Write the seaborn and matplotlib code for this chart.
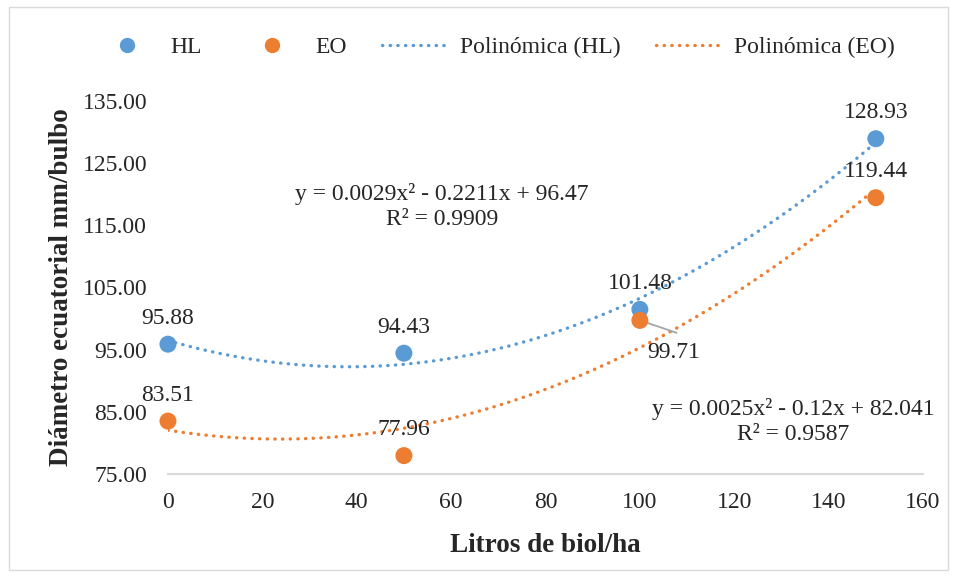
import numpy as np
import pandas as pd
import seaborn as sns
import matplotlib.pyplot as plt
from matplotlib.patches import Rectangle
from matplotlib.lines import Line2D

# datos
litros = [0, 50, 100, 150]
hl = [95.88, 94.43, 101.48, 128.93]
eo = [83.51, 77.96, 99.71, 119.44]
ecuacion_hl = "y = 0.0029x² - 0.2211x + 96.47\nR² = 0.9909"
ecuacion_eo = "y = 0.0025x² - 0.12x + 82.041\nR² = 0.9587"

azul = '#5B9BD5'
naranja = '#ED7D31'

sns.set_style('white')
plt.rcParams['font.family'] = ['Liberation Serif', 'DejaVu Serif']

df = pd.DataFrame({
    'x': litros * 2,
    'y': hl + eo,
    'serie': ['HL'] * 4 + ['EO'] * 4,
})

fig = plt.figure(figsize=(9.57, 5.77), dpi=100)
ax = fig.add_axes([0.1755, 0.1785, 0.789, 0.6465])

# lineas de tendencia polinomicas
xs = np.linspace(0, 150, 200)
fit_hl = np.polyval(np.polyfit(litros, hl, 2), xs)
fit_eo = np.polyval(np.polyfit(litros, eo, 2), xs)
estilo = dict(linewidth=2.4, linestyle=(0, (0.1, 2.2)), dash_capstyle='round')
sns.lineplot(x=xs, y=fit_hl, color=azul, ax=ax, **estilo)
sns.lineplot(x=xs, y=fit_eo, color=naranja, ax=ax, **estilo)

sns.scatterplot(data=df, x='x', y='y', hue='serie', palette={'HL': azul, 'EO': naranja},
                s=150, edgecolor='none', ax=ax, legend=False, zorder=3, clip_on=False)

# etiquetas de datos
fs = 17
for xv, yv in zip(litros, hl):
    ax.annotate(f'{yv:.2f}', (xv, yv), xytext=(0, 11), textcoords='offset points',
                ha='center', va='bottom', fontsize=fs)
for xv, yv in zip(litros, eo):
    if xv == 100:
        ax.annotate(f'{yv:.2f}', (xv, yv), xytext=(5, -23), textcoords='offset points',
                    ha='left', va='center', fontsize=fs)
        ax.plot([xv, xv + 7.8], [yv, yv - 2.0], color='#A6A6A6', lw=1.3, zorder=2)
    else:
        ax.annotate(f'{yv:.2f}', (xv, yv), xytext=(0, 11), textcoords='offset points',
                    ha='center', va='bottom', fontsize=fs)

ax.text(58, 118.0, ecuacion_hl, ha='center', va='center', fontsize=fs, linespacing=1.25)
ax.text(132.5, 83.5, ecuacion_eo, ha='center', va='center', fontsize=fs, linespacing=1.25)

ax.set_xlim(0, 160)
ax.set_ylim(75, 135)
ax.set_xticks(range(0, 161, 20))
ax.set_yticks(range(75, 136, 10))
ax.set_yticklabels([f'{v:.2f}' for v in range(75, 136, 10)])
ax.tick_params(labelsize=fs, length=0)
ax.tick_params(axis='y', pad=15)
ax.tick_params(axis='x', pad=13)
ax.set_xlabel('Litros de biol/ha', fontsize=19.5, fontweight='bold', labelpad=14)
ax.set_ylabel('Diámetro ecuatorial mm/bulbo', fontsize=19.5, fontweight='bold', labelpad=6)
for lado in ['top', 'left', 'right']:
    ax.spines[lado].set_visible(False)
ax.spines['bottom'].set_color('#D9D9D9')
ax.spines['bottom'].set_linewidth(1.5)

# leyenda
handles = [
    Line2D([], [], marker='o', linestyle='none', color=azul, markersize=10),
    Line2D([], [], marker='o', linestyle='none', color=naranja, markersize=10),
    Line2D([], [], color=azul, **estilo),
    Line2D([], [], color=naranja, **estilo),
]
fig.legend(handles, ['HL', 'EO', 'Polinómica (HL)', 'Polinómica (EO)'], loc='center',
           bbox_to_anchor=(0.516, 0.918), ncol=4, frameon=False, fontsize=fs,
           handlelength=2.9, columnspacing=1.5, handletextpad=0.4)

fig.patches.append(Rectangle((0.009, 0.012), 0.982, 0.976, transform=fig.transFigure,
                             fill=False, edgecolor='#D9D9D9', linewidth=1))

fig.savefig('out.png', dpi=100)
